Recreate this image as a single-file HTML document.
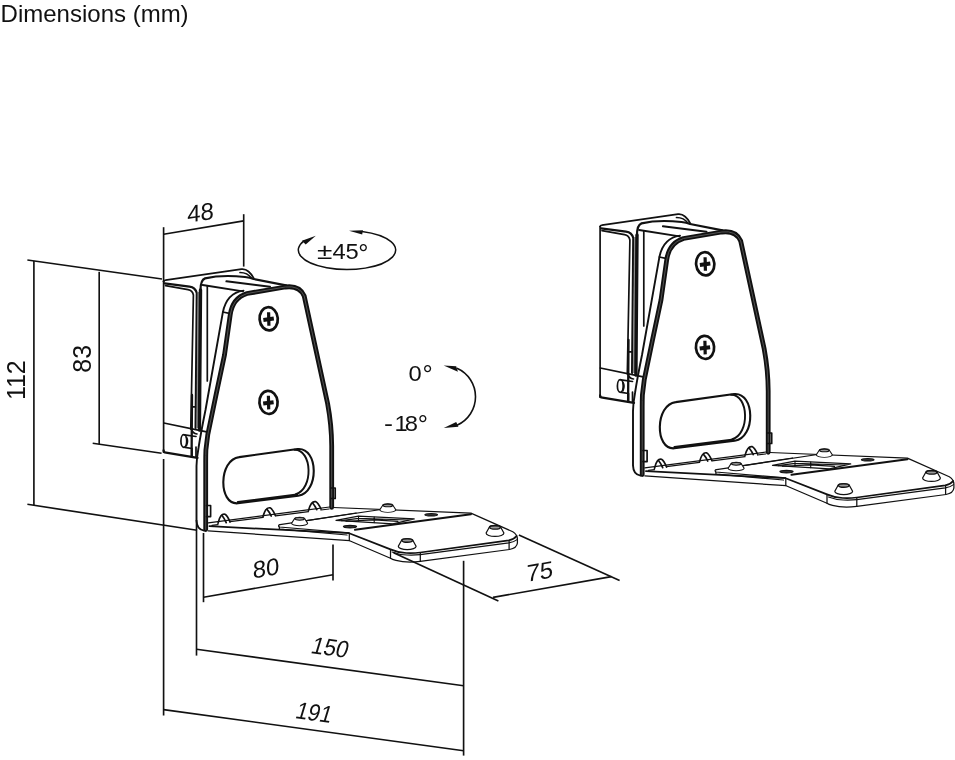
<!DOCTYPE html>
<html><head><meta charset="utf-8"><title>Dimensions (mm)</title>
<style>
html,body{margin:0;padding:0;background:#fff;}
body{width:955px;height:760px;overflow:hidden;position:relative;font-family:"Liberation Sans",sans-serif;}
svg{position:absolute;left:0;top:0;display:block;will-change:transform;transform:translateZ(0);}
text{font-family:"Liberation Sans",sans-serif;fill:#111;}
</style></head><body>
<svg width="955" height="760" viewBox="0 0 955 760">
<defs>
<g id="bump"><path d="M-8.9,8.4 L-5.7,2.4 A5.7,2.1 0 0 1 5.7,2.4 L8.9,8.4 A8.9,3.5 0 0 1 -8.9,8.4 Z" fill="#fff"/><ellipse cx="0" cy="2.5" rx="5.3" ry="1.8" stroke-width="1.5" fill="#999"/></g>
<g id="br" fill="none" stroke="#111" stroke-width="1.7" stroke-linecap="round" stroke-linejoin="round">
<!-- BLOCK -->
<path d="M163.6,281.5 V452.2"/>
<path d="M163.6,281.5 Q163.8,280.4 165.5,280.2 L241.5,269.2 Q245.5,268.8 248.5,271.5 Q252,274.5 254,278.6"/>
<path d="M240,272.5 Q247.5,272.5 251.5,278.2"/>
<path d="M164.5,283.4 L189.5,286.6 Q195.4,287.4 196.8,293 L195.6,428" stroke-width="2.2"/>
<path d="M165.5,285.6 L188,289.6 Q192.6,290.4 193.4,295 L190.8,429"/>
<path d="M163.8,423 L206.6,431.8"/>
<path d="M163.6,450.5 Q163.7,452.6 166,452.6 L197.5,457.8" stroke-width="2.3"/>
<path d="M192,395 L191.6,456.8" stroke-width="2.3"/>
<!-- pin -->
<ellipse cx="183.8" cy="441" rx="2.9" ry="6.3"/>
<path d="M184.5,434.8 L196,436.5 M185,447.3 L192,448.5 M186.5,437.5 Q188.5,441 186.5,445.5 M192,448.5 V456 M196,447 V457"/>
<path d="M191.5,429 Q192.5,433.5 197,434"/>
<path d="M192,406.8 H196"/>
<!-- HOLDER -->
<path d="M197.6,292 L196.4,428 L199.4,428 L199.8,292 Z" fill="#8a8a8a" stroke="none"/>
<path d="M199.4,430 L200.5,290" stroke-width="3.4"/>
<path d="M200.5,291 Q200.3,280.2 205,278.4 Q222,274.4 245,277 Q250,277.6 253.6,279 L286,285.4" stroke-width="2.2"/>
<path d="M202.6,285 L243,291.4" stroke-width="1.9"/>
<path d="M226.4,281.3 L270,286.8" stroke-width="2"/>
<path d="M207.3,286 V381"/>
<!-- FRONT PLATE outer thin edge -->
<path stroke-width="1.9" d="M243.5,290.6 Q226.5,293 222.8,312.6 L205.5,410 Q201,432 198.5,448 Q196.6,458 196.5,466 V520.5 Q196.8,529.6 204,530.6"/>
<path d="M222.8,312 L230.5,313.6"/>
<!-- FRONT PLATE thick -->
<path d="M205.7,529.5 V462 Q205.7,455 205.9,450 L207.8,434.5 L216,395 L224.5,355 L230.2,315 Q232.5,298 247,293.5 L285.4,287 Q299.6,285.2 304.2,296 L327.6,403.5 Q331.6,425 331.7,446 V507.3" stroke-width="4.8"/>
<path d="M205.7,529.5 V462 Q205.7,455 205.9,450 L207.8,434.5 L216,395 L224.5,355 L230.2,315 Q232.5,298 247,293.5 L285.4,287 Q299.6,285.2 304.2,296 L327.6,403.5 Q331.6,425 331.7,446 V507.3" stroke-width="0.9" stroke="#5a5a5a"/>
<!-- tabs -->
<path d="M206.5,505.5 H210.6 V516.6 H206.5" />
<path d="M331,488 H335.2 V498.5 H331" />
<!-- SLOT -->
<path d="M239.2,457.1 L297.6,449 C318.5,447 319.5,492.5 298.3,495.8 L237.9,503.3 C218,505 218.5,459.5 239.2,457.1 Z" stroke-width="2.1"/>
<path d="M294.5,449.8 C312.5,449.5 313.5,489 295.8,494.2" stroke-width="1.9"/>
<path d="M238,502.2 L297,494.6" stroke-width="2.4"/>
<!-- SCREWS -->
<g stroke-width="2.7">
<ellipse cx="268.7" cy="318.8" rx="9.1" ry="11.6" transform="rotate(-5 268.7 318.8)"/>
<ellipse cx="268.5" cy="402.4" rx="9.1" ry="11.6" transform="rotate(-5 268.5 402.4)"/>
<path d="M268.6,312.2 L268.9,325.8" stroke-width="3.2" stroke-linecap="butt"/><path d="M263.4,319.9 L273.8,318.6" stroke-width="4" stroke-linecap="butt"/>
<path d="M268.4,395.8 L268.7,409.4" stroke-width="3.2" stroke-linecap="butt"/><path d="M263.2,403.5 L273.6,402.2" stroke-width="4" stroke-linecap="butt"/>
</g>
<!-- RIBS -->
<path d="M218,523.2 Q220.5,513 225,514.2 Q227.5,515.5 230,522"/><path d="M222,515.5 Q224.5,518.5 226.2,522.6"/>
<path d="M263,516.8 Q265.5,507 270,507.8 Q272.5,509 275.3,515.4"/><path d="M267,509.3 Q269.5,512 271.2,516"/>
<path d="M308.5,510.4 Q311,500.8 315.5,501.6 Q318,502.8 321,509"/><path d="M312.6,503 Q315,505.8 316.8,509.6"/>
<g stroke-width="1.25">
<!-- BASE PLATE -->
<path d="M208.3,522.9 L329.5,507"/>
<path d="M212,525.4 L218,524.6 M230,521.6 L263,517.4 M275.5,515.8 L308.5,511.6 M321,510 L329,509"/>
<path d="M333.3,507.5 L470.9,513.1 L512.8,531.7 Q517,534 517.4,538.9 V543 Q517,548 509.5,549.5 L420.3,561.4 Q406,563 396,560.4 Q392,559.4 390.5,558.3 L349.6,540.7 L208.3,530.8"/>
<path d="M209.4,526.2 L349.2,533.2 L390.5,549.4 Q398,552.8 406.2,553 Q413,553.4 420.3,552.5 L508.8,540.3 Q514,539.4 516.6,536" stroke-width="1.75"/>
<path d="M392,552 Q399,554.8 407,555 Q414,555.3 420.3,554.6 L508.8,542.9 Q514,542 517,539.6" stroke-width="1.1"/>
<path d="M349.3,533.4 V540.6 M390.5,549.6 V558.3 M420.3,552.8 V561.3 M509.1,540.4 V549.4"/>
<!-- upper plate -->
<path d="M280,524.7 L381,509.5"/>
<path d="M279.6,524.6 Q277.6,525.6 279.4,527 L349,532.8"/>
<path d="M283,529.4 L347,535"/>
<path d="M279.4,527 V529.2 L283,529.4"/>
<path d="M355,529.8 L470.9,514.3" stroke-width="2"/>
<path d="M306.5,520.6 L356,513"/>
<!-- cutout -->
<path d="M336,520.3 L358.4,516.2 L414.2,518.9 L393,523.9 Z"/>
<path d="M341.5,520.6 L358.6,518.4 L408,520 M358.5,516.4 V521.2 M374.2,517 V522.6 M346,521.2 L374,519.9 L398,521.4" stroke-width="1.1"/>
<ellipse cx="350" cy="526.6" rx="6.6" ry="1.3" stroke-width="1.2" fill="#333"/>
<ellipse cx="431.2" cy="514.7" rx="6.3" ry="1.2" stroke-width="1.2" fill="#333"/>
<!-- bumps -->
<use href="#bump" transform="translate(299.6,517) scale(0.9,0.74)"/>
<use href="#bump" transform="translate(387.8,503.6) scale(0.9,0.74)"/>
<use href="#bump" transform="translate(407.2,538.2) scale(1,0.96)"/>
<use href="#bump" transform="translate(495,525) scale(1,0.96)"/>
</g>
</g>
</defs>

<!-- DIMENSION LINES -->
<g fill="none" stroke="#111" stroke-width="1.65" stroke-linecap="butt">
<path d="M27.4,260 L162,279"/>
<path d="M33.9,261 V505.4"/>
<path d="M27.4,504.3 L197,530.2"/>
<path d="M99.2,271.8 V444.2"/>
<path d="M92.7,443.2 L161.6,453.3"/>
<path d="M163.6,227.2 V282"/>
<path d="M243.7,214.2 V266.6"/>
<path d="M163.6,234.3 L243.7,220.9"/>
<path d="M163.6,459 V715.4"/>
<path d="M196.5,520 V655.6"/>
<path d="M203.5,533 V602.2"/>
<path d="M333,544.6 V580.4"/>
<path d="M203.5,597.3 L333,574.8"/>
<path d="M196.5,649.3 L463.6,685.8"/>
<path d="M163.6,709.6 L463.6,750.7"/>
<path d="M463.6,560.8 V755.6"/>
<path d="M393.6,552.7 L498.4,601.1"/>
<path d="M518.9,535 L619.6,580.4"/>
<path d="M493,597.4 L611.4,576.6"/>
<!-- rotation arcs -->
<path d="M304,240.9 A48.7,19.5 0 1 0 362,231.5" stroke-width="1.5"/>
<path d="M457,368.2 A31.2,31.2 0 0 1 457,425.2" stroke-width="1.6"/>
</g>
<g fill="#111" stroke="none">
<path d="M315.8,235.8 L301.9,240.8 L305.7,244.4 Z"/>
<path d="M349,230.8 L362.9,230.3 L362.2,234.6 Z"/>
<path d="M443.7,365.5 L456.2,366.2 L457.9,371.7 Z"/>
<path d="M443.7,427.9 L456.2,422.1 L458.4,426.8 Z"/>
</g>
<!-- TEXT -->
<text x="0.6" y="22" font-size="24">Dimensions (mm)</text>
<g font-size="24" text-anchor="middle">
<text transform="translate(200.5,212.5) skewY(-8)" y="8.3">48</text>
<text transform="translate(16.4,380.2) rotate(-90)" y="8.6" font-size="25">112</text>
<text transform="translate(82.8,358.8) rotate(-90)" y="8.6" font-size="25">83</text>
<text transform="translate(266,568) skewY(-9)" y="8.3">80</text>
<text transform="translate(539.8,571.4) skewY(-10)" y="8.3">75</text>
<text transform="translate(330.4,647.4) rotate(7.8) skewX(-9) scale(0.92,1)" y="8.3">150</text>
<text transform="translate(314.4,712.4) rotate(7.8) skewX(-9) scale(0.9,1)" y="8.3">191</text>
</g>
<g><text transform="translate(316.9,259.3) scale(1.3,1)" font-size="21.6">±</text><text transform="translate(332.4,259.3) scale(1.1,1)" font-size="21.6">4</text><text transform="translate(345.6,259.3) scale(1.1,1)" font-size="21.6">5</text><text transform="translate(408.6,380.7) scale(1.1,1)" font-size="21.6">0</text><text transform="translate(384,430.5) scale(1.25,1)" font-size="21.6">-</text><text transform="translate(394.4,430.5) scale(1.1,1)" font-size="21.6">1</text><text transform="translate(404.8,430.5) scale(1.1,1)" font-size="21.6">8</text><text transform="translate(358.2,261.90000000000003)" font-size="25.5">°</text><text transform="translate(422.4,383.3)" font-size="25.5">°</text><text transform="translate(417.8,433.1)" font-size="25.5">°</text></g>
<use href="#br"/>
<use href="#br" transform="translate(436.5,-55)"/>
</svg>
</body></html>
